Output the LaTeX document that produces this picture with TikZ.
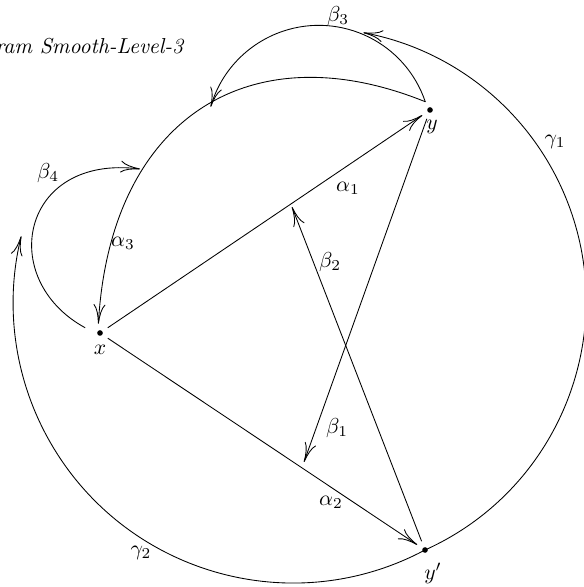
\documentclass[tikz,border=0pt]{standalone}
\usetikzlibrary{arrows.meta}

\begin{document}
\begin{tikzpicture}[x=1.625mm,y=1.625mm,
  pt/.style={circle,inner sep=0pt,minimum size=2.9mm},
  arr/.style={-{To[length=9pt,width=5.5pt]}}]

  \useasboundingbox (0,0) rectangle (58.3,58.7);

  % title (cut by the frame)
  \node[anchor=east] (title) at (19.2,53.9) {\textit{Diagram Smooth-Level-3}};

  % points
  \node[pt] (x)  at (10,25.4) {};
  \node[pt] (y)  at (43,47.7) {};
  \node[pt] (yp) at (42.5,3.7) {};
  \foreach \p in {x,y,yp}
    \fill (\p) circle (1.3pt);

  % free ends of the beta arrows
  \coordinate (b1) at (30.4,12.5);
  \coordinate (b2) at (29.2,38.0);
  \coordinate (b4) at (14.0,41.8);

  % straight arrows
  \draw[arr] (x) -- (y);
  \draw[arr] (x) -- (yp);
  \draw[arr] (y) -- (b1);
  \draw[arr] (yp) -- (b2);

  % curved arrows
  \draw[arr] (y.119) .. controls (24.8,55.7) and (11,46.7) .. (x.100);
  \draw[arr] (y.120) arc[start angle=18.6,end angle=164,radius=11.24];
  \draw[arr,shorten <=3pt] (x.167) .. controls (-0.4,30.8) and (2.1,43.3) .. (b4);

  % outer arcs through y'
  \draw[arr] (yp.center) arc[start angle=-65.8,end angle=79.4,radius=27.3];
  \draw[arr] (yp.center) arc[start angle=-61.9,end angle=-193.8,radius=28];

  % labels
  \node (lx)  at (10,23.7)   {$x$};
  \node (ly)  at (43.2,46.0) {$y$};
  \node (lyp) at (43.3,1.4)  {$y'$};
  \node (la1) at (34.8,39.9) {$\alpha_1$};
  \node (la2) at (33.1,8.5)  {$\alpha_2$};
  \node (la3) at (12.3,34.4) {$\alpha_3$};
  \node (lb1) at (33.7,15.9) {$\beta_1$};
  \node (lb2) at (33.0,32.5) {$\beta_2$};
  \node (lb3) at (33.8,57.1) {$\beta_3$};
  \node (lb4) at (4.8,41.4)  {$\beta_4$};
  \node (lg1) at (55.5,44.5) {$\gamma_1$};
  \node (lg2) at (14.1,3.4)  {$\gamma_2$};
\end{tikzpicture}
\end{document}
